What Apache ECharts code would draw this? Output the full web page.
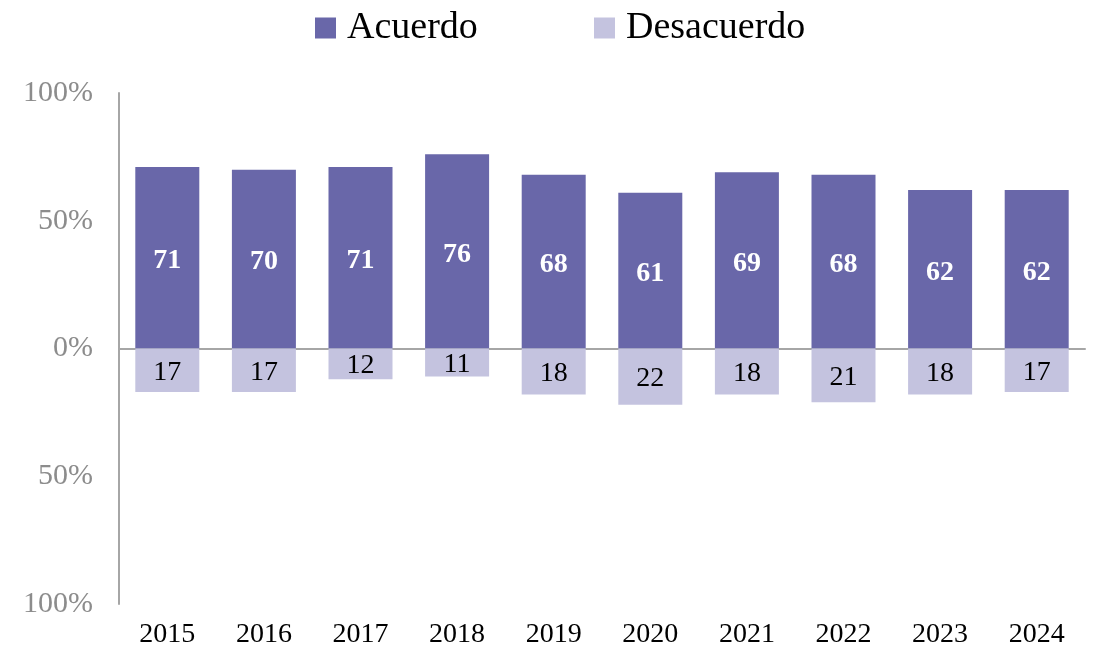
<!DOCTYPE html>
<html>
<head>
<meta charset="utf-8">
<script src="https://cdn.jsdelivr.net/npm/echarts@6/dist/echarts.min.js"></script>
<style>
  html, body { margin: 0; padding: 0; background: #fff; }
  #main { width: 1096px; height: 649px; }
</style>
</head>
<body>
<div id="main"></div>
<script>
var years = ['2015', '2016', '2017', '2018', '2019', '2020', '2021', '2022', '2023', '2024'];
var acuerdo = [71, 70, 71, 76, 68, 61, 69, 68, 62, 62];
var desacuerdo = [17, 17, 12, 11, 18, 22, 18, 21, 18, 17];
var yTicks = [-100, -50, 0, 50, 100];

var fontFam = '"Liberation Serif", "DejaVu Serif", serif';
var myChart = echarts.init(document.getElementById('main'));

// una leyenda por serie para fijar la posicion de cada una
function legendItem(name, left) {
    return {
        data: [name], left: left, top: 4,
        itemWidth: 21, itemHeight: 21,
        icon: 'rect',
        textStyle: { fontSize: 38, color: '#000', fontFamily: fontFam, padding: [0, 0, 0, 6] }
    };
}

var option = {
    animation: false,
    textStyle: { fontFamily: fontFam },
    legend: [legendItem('Acuerdo', 310), legendItem('Desacuerdo', 589)],
    grid: { left: 119, right: 11, top: 93, bottom: 45 },
    xAxis: [
        {
            type: 'category',
            data: years,
            position: 'bottom',
            axisLine: { show: false, onZero: false },
            axisTick: { show: false },
            axisLabel: { fontSize: 28, color: '#000', margin: 17, fontFamily: fontFam }
        },
        {
            // linea del cero
            type: 'category',
            data: years,
            axisLine: { show: true, onZero: true, lineStyle: { color: '#a6a6a6', width: 2 } },
            axisTick: { show: false },
            axisLabel: { show: false }
        }
    ],
    yAxis: {
        type: 'value',
        min: yTicks[0],
        max: yTicks[yTicks.length - 1],
        interval: 50,
        axisLine: { show: true, lineStyle: { color: '#a6a6a6', width: 2 } },
        axisTick: { show: false },
        splitLine: { show: false },
        axisLabel: {
            fontSize: 30, color: '#8c8c8c', margin: 26, fontFamily: fontFam,
            padding: [8, 0, 0, 0],
            formatter: function (v) { return Math.abs(v) + '%'; }
        }
    },
    series: [
        {
            name: 'Acuerdo',
            type: 'bar',
            stack: 'total',
            barWidth: 64,
            data: acuerdo,
            itemStyle: { color: '#6967a9' },
            label: {
                show: true, position: 'inside', offset: [0, 3],
                color: '#fff', fontWeight: 'bold', fontSize: 28, fontFamily: fontFam
            }
        },
        {
            name: 'Desacuerdo',
            type: 'bar',
            stack: 'total',
            barWidth: 64,
            data: desacuerdo.map(function (v) { return -v; }),
            itemStyle: { color: '#c4c3df' },
            label: {
                show: true, position: 'inside', offset: [0, 2],
                color: '#000', fontSize: 28, fontFamily: fontFam,
                formatter: function (p) { return Math.abs(p.value); }
            }
        }
    ]
};
myChart.setOption(option);
</script>
</body>
</html>
